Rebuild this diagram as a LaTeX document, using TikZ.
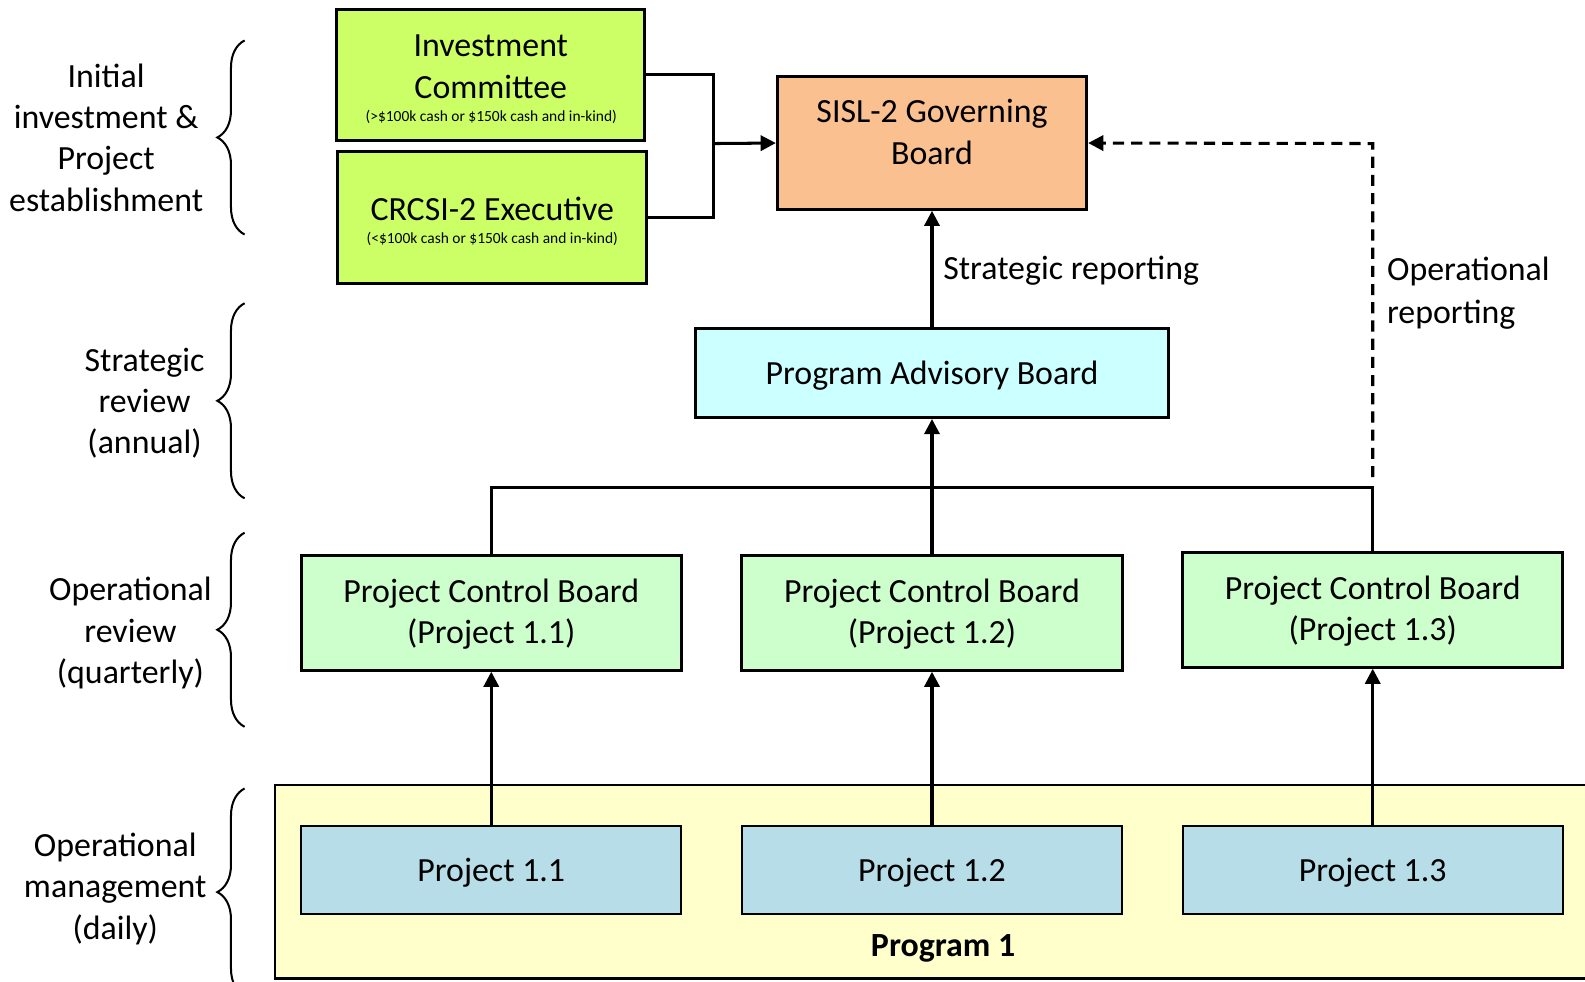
\documentclass[tikz,border=0pt]{standalone}
\usepackage{fontspec}
\setmainfont{Carlito}
\usetikzlibrary{arrows.meta,decorations.pathreplacing}
\newcommand\bigf{\fontsize{33.5}{41}\selectfont}
\newcommand\smallf{\fontsize{15.3}{18}\selectfont}
\definecolor{cgreenyellow}{HTML}{CCFF66}
\definecolor{cpeach}{HTML}{FAC090}
\definecolor{ccyan}{HTML}{CCFFFF}
\definecolor{cmint}{HTML}{CCFFCC}
\definecolor{cproj}{HTML}{B7DEE8}
\definecolor{cprog}{HTML}{FFFFCC}
\begin{document}
\begin{tikzpicture}[x=1pt,y=-1pt,
  box/.style={draw, line width=3pt, inner sep=0pt, align=center, font=\bigf, text depth=0pt},
  projbox/.style={draw, line width=2pt, inner sep=0pt, align=center, font=\bigf, text depth=0pt, fill=cproj, minimum width=376pt, minimum height=87pt},
  pcbbox/.style={box, fill=cmint, minimum width=376pt, minimum height=113pt, text depth=4pt},
  txt/.style={inner sep=0pt, align=center, font=\bigf, text depth=0pt},
  smalltxt/.style={inner sep=0pt, align=center, font=\smallf},
  conn/.style={line width=3pt},
  arr/.style={line width=3pt, -{Triangle[length=15pt,width=15pt]}},
  bracestyle/.style={line width=2pt, decorate, decoration={brace, amplitude=27pt}}
]
\useasboundingbox (0,0) rectangle (1568,971);

% Program background
\node[draw, line width=2pt, fill=cprog, minimum width=1340pt, minimum height=191.5pt, inner sep=0pt] (prog) at (942,872.25) {};
\node[txt, font=\bigf\bfseries] (progtxt) at (933,935) {Program 1};

% top boxes
\node[box, fill=cgreenyellow, minimum width=305pt, minimum height=130pt] (ic) at (485.5,74) {};
\node[txt] (ictxt) at (485.5,66) {Investment\\Committee};
\node[smalltxt] (icsmall) at (486,116) {(>\$100k cash or \$150k cash and in-kind)};
\node[box, fill=cgreenyellow, minimum width=306pt, minimum height=130pt] (crcsi) at (487,215) {};
\node[txt] (crcsitxt) at (487,207) {CRCSI-2 Executive};
\node[smalltxt] (crcsismall) at (487,236) {(<\$100k cash or \$150k cash and in-kind)};

\node[box, fill=cpeach, minimum width=306pt, minimum height=131pt] (sisl) at (922,141.5) {};
\node[txt] (sisltxt) at (922,130.5) {SISL-2 Governing\\Board};

\node[box, fill=ccyan, minimum width=468pt, minimum height=88pt] (pab) at (922,369) {Program Advisory Board};

\node[pcbbox] (pcb1) at (486,606.5) {Project Control Board\\(Project 1.1)};
\node[pcbbox] (pcb2) at (922,606.5) {Project Control Board\\(Project 1.2)};
\node[pcbbox] (pcb3) at (1358,603.5) {Project Control Board\\(Project 1.3)};

\node[projbox] (p1) at (486,860.5) {Project 1.1};
\node[projbox] (p2) at (922,860.5) {Project 1.2};
\node[projbox] (p3) at (1358,860.5) {Project 1.3};

% connectors
\coordinate (j1) at (706,142);
\draw[conn] (ic.east) -| (j1);
\draw[conn] (crcsi.east) -| (j1);
\draw[arr] (j1) -- (sisl.west);

\draw[arr] (pab.north) -- (sisl.south);
\node[txt, anchor=west] (strep) at (933,265) {Strategic reporting};

\coordinate (j2) at (922,482);
\coordinate (j3) at (1358,142);
\draw[conn] (pcb1.north) |- (j2);
\draw[conn] (pcb3.north) |- (j2);
\draw[arr] (pcb2.north) -- (pab.south);
\draw[line width=3pt, dash pattern=on 11pt off 7pt, -{Triangle[length=15pt,width=15pt]}] (1358,472) -- (j3) -- (sisl.east);
\node[txt, anchor=west, align=left, font=\fontsize{33.5}{42}\selectfont] (oprep) at (1372,287) {Operational\\reporting};

\draw[arr] (p1.north) -- (pcb1.south);
\draw[arr] (p2.north) -- (pcb2.south);
\draw[arr] (p3.north) -- (pcb3.south);

% braces and labels
\draw[bracestyle] (242,232) -- (242,40);
\draw[bracestyle] (242,493) -- (242,300);
\draw[bracestyle] (242,719) -- (242,527);
\draw[bracestyle] (242,985) -- (242,780);

\node[txt] (l1) at (105,136) {Initial\\investment \&\\Project\\establishment};
\node[txt] (l2) at (143,396.5) {Strategic\\review\\(annual)};
\node[txt] (l3) at (129,623.5) {Operational\\review\\(quarterly)};
\node[txt] (l4) at (114,876.5) {Operational\\management\\(daily)};
\end{tikzpicture}
\end{document}
